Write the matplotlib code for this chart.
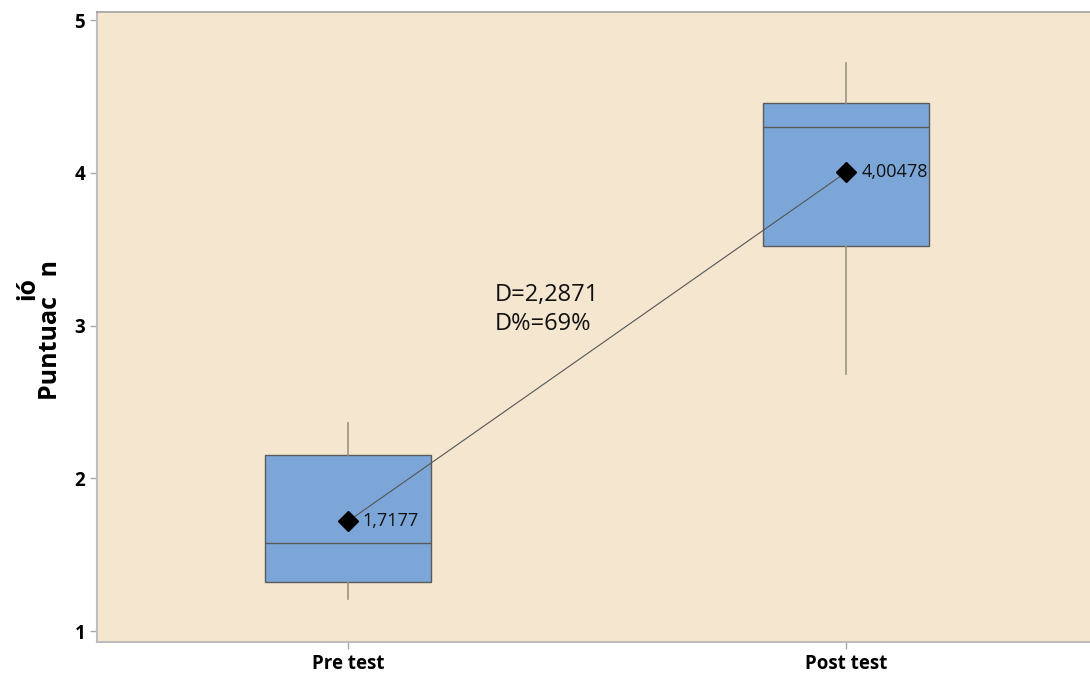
import matplotlib
matplotlib.use('Agg')
import matplotlib.pyplot as plt

plt.rcParams['font.family'] = ['Open Sans', 'DejaVu Sans']

# group summaries
groups = ['Pre test', 'Post test']
whisker_low = [1.21, 2.68]
q1 = [1.32, 3.52]
medians = [1.575, 4.30]
q3 = [2.15, 4.46]
whisker_high = [2.36, 4.72]
means = [1.7177, 4.00478]
mean_labels = ['1,7177', '4,00478']
diff_text = 'D=2,2871\nD%=69%'

positions = [1, 2]
stats = []
for i in range(len(groups)):
    stats.append({
        'label': groups[i],
        'whislo': whisker_low[i],
        'q1': q1[i],
        'med': medians[i],
        'q3': q3[i],
        'whishi': whisker_high[i],
        'fliers': [],
    })

fig = plt.figure(figsize=(10.9, 6.73), dpi=100)
ax = fig.add_axes([0.089, 0.046, 0.913, 0.936])
ax.set_facecolor('#F5E6D0')

ax.bxp(stats, positions=positions, widths=0.333, patch_artist=True,
       showcaps=False,
       boxprops=dict(facecolor='#7BA6D7', edgecolor='#5A5A5A', linewidth=1.0),
       medianprops=dict(color='#5A5A5A', linewidth=1.0),
       whiskerprops=dict(color='#9A9283', linewidth=1.2))

# mean connect line and markers
ax.plot(positions, means, color='#555555', linewidth=0.8, zorder=4)
ax.plot(positions, means, 'D', color='black', markersize=10, zorder=5)
for p, m, lab in zip(positions, means, mean_labels):
    ax.text(p + 0.03, m, lab, fontsize=13, va='center', ha='left', color='#111111', zorder=6)

ax.text(1.295, 3.28, diff_text, fontsize=17, va='top', ha='left',
        linespacing=1.3, color='#111111')

ax.set_xlim(0.497, 2.493)
ax.set_ylim(0.928, 5.052)
ax.set_yticks([1, 2, 3, 4, 5])
ax.set_xticks(positions)
ax.set_xticklabels(groups)
for lbl in ax.get_xticklabels() + ax.get_yticklabels():
    lbl.set_fontweight('bold')
    lbl.set_fontsize(13.5)
ax.tick_params(axis='both', colors='#A8A8A8', labelcolor='black', length=5, width=1)

for side in ['left', 'bottom']:
    ax.spines[side].set_color('#BDBDBD')
    ax.spines[side].set_linewidth(1.5)
ax.spines['right'].set_visible(False)
ax.spines['top'].set_color('#A0A0A0')
ax.spines['top'].set_linewidth(1.2)

# axis title, drawn in two pieces
fig.text(0.0465, 0.51, 'Puntuac   n', rotation=90, fontsize=18, fontweight='bold',
         ha='center', va='center')
fig.text(0.0255, 0.572, 'ió', rotation=90, fontsize=18, fontweight='bold',
         ha='center', va='center')

fig.savefig('out.png', dpi=100, facecolor='white')
